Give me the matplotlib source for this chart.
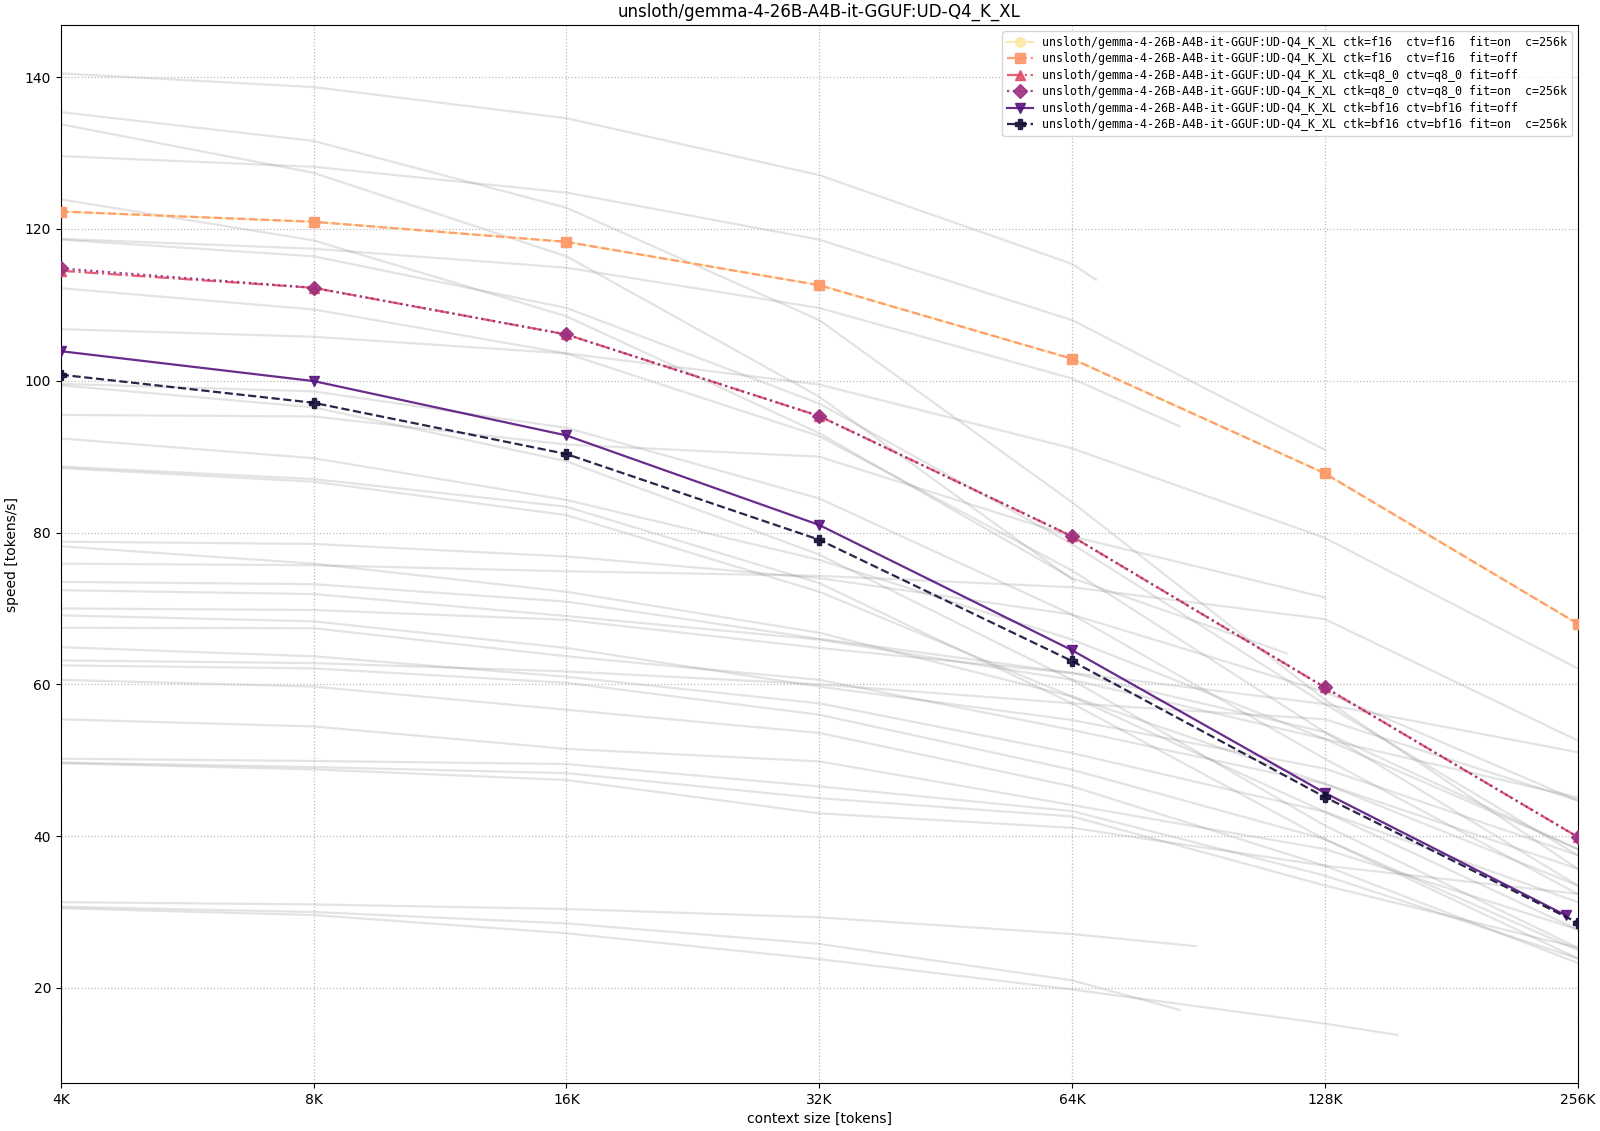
import numpy as np
import matplotlib
matplotlib.use('Agg')
import matplotlib.pyplot as plt

# context sizes (tokens)
ctx = [4096, 8192, 16384, 32768, 65536, 131072, 262144]
ctx_labels = ['4K', '8K', '16K', '32K', '64K', '128K', '256K']

model = 'unsloth/gemma-4-26B-A4B-it-GGUF:UD-Q4_K_XL'

# highlighted runs: (ctk, ctv, fit)
runs = [('f16', 'f16', 'on'), ('f16', 'f16', 'off'),
        ('q8_0', 'q8_0', 'off'), ('q8_0', 'q8_0', 'on'),
        ('bf16', 'bf16', 'off'), ('bf16', 'bf16', 'on')]

f16_on = [122.3, 120.95, 118.3, 112.6, 102.9, 87.8, 68.0]
f16_off = [122.3, 120.95, 118.3, 112.6, 102.9, 87.8, 68.0]
q8_off = [114.5, 112.25, 106.1, 95.35, 79.5, 59.6, 39.9]
q8_on = [114.8, 112.25, 106.1, 95.35, 79.5, 59.6, 39.9]
bf16_off = [103.9, 99.96, 92.8, 81.0, 64.5, 45.7, 29.55]
bf16_on = [100.8, 97.1, 90.35, 79.05, 63.07, 45.15, 28.6]
bf16_off_ctx = [4096, 8192, 16384, 32768, 65536, 131072, 254000]

highlight = [f16_on, f16_off, q8_off, q8_on, bf16_off, bf16_on]
highlight_ctx = [ctx, ctx, ctx, ctx, bf16_off_ctx, ctx]

# other models / configs (grey background lines); last point may end early
grey_lines = [
    (ctx[:5] + [70000], [140.5, 138.7, 134.6, 127.1, 115.4, 113.3]),
    (ctx, [135.4, 131.6, 122.8, 108.0, 84.0, 58.0, 35.7]),
    (ctx[:4] + [66000], [133.8, 127.4, 116.4, 97.9, 73.6]),
    (ctx[:6], [129.6, 128.2, 124.8, 118.6, 108.0, 90.9]),
    (ctx[:5] + [118000], [123.9, 118.5, 108.5, 93.1, 74.0, 64.1]),
    (ctx[:5] + [88000], [118.7, 117.4, 114.9, 109.6, 100.3, 94.0]),
    (ctx, [118.6, 116.4, 109.6, 97.0, 78.5, 57.4, 37.5]),
    (ctx, [112.2, 109.4, 103.6, 92.7, 75.0, 53.7, 33.5]),
    (ctx, [106.8, 105.8, 103.6, 99.5, 91.1, 79.3, 62.1]),
    (ctx, [99.6, 98.6, 93.8, 84.5, 69.2, 50.2, 32.4]),
    (ctx, [99.4, 96.5, 89.4, 77.1, 60.6, 41.4, 25.3]),
    (ctx[:6], [95.5, 95.3, 91.6, 90.0, 79.5, 71.45]),
    (ctx, [92.4, 89.8, 84.3, 76.4, 65.9, 52.8, 38.3]),
    (ctx, [88.7, 87.05, 83.4, 73.35, 57.5, 39.6, 23.9]),
    (ctx, [88.5, 86.7, 82.3, 72.2, 58.4, 43.2, 27.7]),
    (ctx, [78.8, 78.5, 76.85, 74.0, 69.2, 59.0, 44.7]),
    (ctx, [78.2, 75.9, 72.2, 66.8, 58.4, 46.9, 33.5]),
    (ctx, [75.9, 75.7, 74.9, 74.3, 72.8, 68.6, 52.6]),
    (ctx, [73.5, 73.2, 70.9, 66.0, 61.5, 53.7, 38.3]),
    (ctx, [72.4, 71.9, 69.0, 65.9, 60.6, 52.8, 45.1]),
    (ctx, [70.0, 69.8, 68.5, 64.8, 61.5, 57.4, 51.05]),
    (ctx, [69.1, 68.3, 64.8, 59.7, 55.3, 48.9, 37.5]),
    (ctx, [67.45, 67.4, 63.7, 60.6, 54.0, 46.9, 35.7]),
    (ctx, [64.9, 63.7, 61.0, 57.5, 50.95, 43.2, 31.3]),
    (ctx, [63.15, 62.8, 61.7, 60.0, 57.5, 55.4, 44.7]),
    (ctx, [62.5, 62.1, 60.2, 56.0, 48.75, 39.6, 25.0]),
    (ctx, [60.6, 59.7, 56.65, 53.6, 46.55, 36.1, 23.3]),
    (ctx, [55.4, 54.45, 51.5, 49.85, 44.1, 38.3, 27.7]),
    (ctx, [50.2, 49.9, 49.5, 46.55, 43.3, 34.8, 23.9]),
    (ctx, [49.7, 49.1, 48.3, 45.0, 42.6, 33.5, 25.3]),
    (ctx, [49.6, 48.8, 47.4, 43.0, 41.1, 36.1, 32.4]),
    (ctx[:5] + [92000], [31.3, 31.0, 30.4, 29.3, 27.1, 25.5]),
    (ctx[:5] + [88000], [30.7, 30.0, 28.5, 25.8, 21.0, 17.1]),
    (ctx[:6] + [160000], [30.5, 29.6, 27.2, 23.8, 19.8, 15.3, 13.8]),
]

colors = plt.cm.magma(np.linspace(0.95, 0.1, 6))
markers = ['o', 's', '^', 'D', 'v', 'P']
styles = ['-', '--', '-.', ':', '-', '--']

fig = plt.figure(figsize=(16, 11.31), dpi=100)
ax = fig.add_axes([0.038, 0.0424, 0.948, 0.9352])

for xs, ys in grey_lines:
    ax.plot(xs, ys, color='gray', alpha=0.22, lw=1.6, zorder=1)

for i, (ctk, ctv, fit) in enumerate(runs):
    label = '{} ctk={:<5}ctv={:<5}fit={:<4}'.format(model, ctk, ctv, fit)
    if fit == 'on':
        label += 'c=256k'
    ax.plot(highlight_ctx[i], highlight[i], color=colors[i], marker=markers[i],
            ls=styles[i], lw=1.6, ms=7, alpha=0.9, label=label, zorder=3 + i)

ax.set_xscale('log', base=2)
ax.set_xlim(4096, 262144)
ax.set_xticks(ctx)
ax.set_xticklabels(ctx_labels)
ax.xaxis.set_minor_locator(matplotlib.ticker.NullLocator())
ax.set_yticks([20, 40, 60, 80, 100, 120, 140])
ax.grid(True, ls=':', color='#bbbbbb', lw=0.9)
ax.tick_params(labelsize=10)
ax.set_xlabel('context size [tokens]', fontsize=10)
ax.set_ylabel('speed [tokens/s]', fontsize=10)
ax.set_title(model, fontsize=12)
ax.legend(loc='upper right', prop={'family': 'DejaVu Sans Mono', 'size': 8.4},
          labelspacing=0.3, handlelength=2.2)

plt.savefig('out.png')
